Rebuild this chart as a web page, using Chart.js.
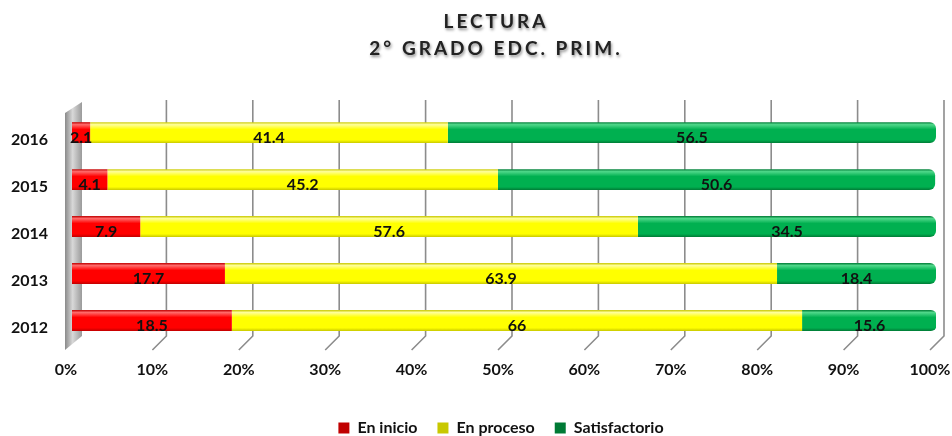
<!DOCTYPE html>
<html><head><meta charset="utf-8">
<script src="https://cdn.jsdelivr.net/npm/chart.js@4/dist/chart.umd.min.js"></script>
<style>html,body{margin:0;padding:0;background:#fff}#wrap{width:952px;height:436px}</style>
</head><body><div id="wrap"><canvas id="c" width="952" height="436"></canvas></div>
<script>
const titleLines = ['LECTURA', '2° GRADO EDC. PRIM.'];
const years = ['2016', '2015', '2014', '2013', '2012'];
const enInicio = [2.1, 4.1, 7.9, 17.7, 18.5];
const enProceso = [41.4, 45.2, 57.6, 63.9, 66];
const satisfactorio = [56.5, 50.6, 34.5, 18.4, 15.6];
const seriesNames = ['En inicio', 'En proceso', 'Satisfactorio'];
const xTicks = [0,10,20,30,40,50,60,70,80,90,100];

const FONT = 'Lato, "Open Sans", sans-serif';
const BAR_H = 21;

function grad(base, light, dark){
  return function(ctx){
    const chart = ctx.chart;
    const ys = chart.scales && chart.scales.y;
    if (!ys || !chart.chartArea || ctx.dataIndex === undefined) return base;
    const y = ys.getPixelForValue(ctx.dataIndex);
    const g = chart.ctx.createLinearGradient(0, y - BAR_H/2, 0, y + BAR_H/2);
    g.addColorStop(0, dark);
    g.addColorStop(0.12, light);
    g.addColorStop(0.35, base);
    g.addColorStop(0.85, base);
    g.addColorStop(1, dark);
    return g;
  };
}

const decor = {
  id: 'decor',
  afterLayout(chart){
    if (chart.titleBlock) { chart.titleBlock.left += 28; chart.titleBlock.right += 28; }
    if (chart.legend) { chart.legend.left += 33; chart.legend.right += 33; }
  },
  beforeDatasetsDraw(chart){
    const {ctx, chartArea} = chart;
    const xs = chart.scales.x;
    const topY = chartArea.top - 9, midY = chartArea.bottom - 8, botY = chartArea.bottom + 6;
    ctx.save();
    const x0 = xs.getPixelForValue(0);
    const g = ctx.createLinearGradient(x0 - 7, 0, x0 + 10, 0);
    g.addColorStop(0, '#8a8a8a');
    g.addColorStop(0.45, '#d8d8d8');
    g.addColorStop(1, '#9a9a9a');
    ctx.fillStyle = g;
    ctx.beginPath();
    ctx.moveTo(x0 + 10, topY + 2);
    ctx.lineTo(x0 + 10, midY);
    ctx.lineTo(x0 - 7, botY);
    ctx.lineTo(x0 - 7, topY + 13);
    ctx.closePath();
    ctx.fill();
    ctx.strokeStyle = '#8c8c8c';
    ctx.lineWidth = 1.6;
    xTicks.forEach(v => {
      if (v === 0) return;
      const px = xs.getPixelForValue(v);
      ctx.beginPath();
      ctx.moveTo(px + 8, topY);
      ctx.lineTo(px + 8, midY);
      ctx.lineTo(px - 6, botY);
      ctx.stroke();
    });
    ctx.restore();
  },
  afterDatasetsDraw(chart){
    const {ctx} = chart;
    ctx.save();
    ctx.font = 'bold 16px ' + FONT;
    ctx.fillStyle = '#111';
    ctx.textAlign = 'center';
    ctx.textBaseline = 'middle';
    chart.data.datasets.forEach((ds, di) => {
      const meta = chart.getDatasetMeta(di);
      meta.data.forEach((el, i) => {
        const cx = (el.x + el.base) / 2;
        ctx.fillText(String(ds.data[i]), cx, el.y + 5);
      });
    });
    ctx.restore();
  },
  afterInit(chart){
    const tb = chart.titleBlock;
    if (tb) {
      const orig = tb.draw;
      tb.draw = function(area){
        const c = chart.ctx;
        c.save();
        c.letterSpacing = '3px';
        c.shadowColor = 'rgba(0,0,0,0.45)';
        c.shadowBlur = 3;
        c.shadowOffsetX = 1;
        c.shadowOffsetY = 2;
        orig.call(this, area);
        c.restore();
      };
    }
  }
};

new Chart(document.getElementById('c'), {
  type: 'bar',
  data: {
    labels: years,
    datasets: [
      { label: seriesNames[0], data: enInicio, backgroundColor: grad('#ff0000', '#ff6a6a', '#c00000'), borderWidth: 0 },
      { label: seriesNames[1], data: enProceso, backgroundColor: grad('#ffff00', '#ffff9a', '#c8c800'), borderWidth: 0 },
      { label: seriesNames[2], data: satisfactorio, backgroundColor: grad('#00b050', '#4fd88a', '#007a35'), borderWidth: 0,
        borderRadius: {topLeft: 0, bottomLeft: 0, topRight: 6, bottomRight: 6}, borderSkipped: 'start' }
    ]
  },
  options: {
    indexAxis: 'y',
    responsive: false,
    animation: false,
    devicePixelRatio: 1,
    layout: { autoPadding: false, padding: { left: 0, right: 16, top: 0, bottom: -10 } },
    datasets: { bar: { categoryPercentage: 1, barPercentage: 0.444 } },
    scales: {
      x: {
        stacked: true, min: 0, max: 100,
        grid: { display: false, drawTicks: false },
        border: { display: false },
        afterBuildTicks(s){ s.ticks = xTicks.map(v => ({ value: v })); },
        afterFit(s){ s.height = 56; s.paddingLeft = 0; s.paddingRight = 0; },
        ticks: { padding: 16, labelOffset: -6, color: '#111', font: { family: FONT, size: 16, weight: 'bold' },
          callback: v => v + '%', maxRotation: 0, autoSkip: false }
      },
      y: {
        stacked: true,
        grid: { display: false, drawTicks: false },
        border: { display: false },
        afterFit(s){ s.width = 72; },
        ticks: { padding: 24, labelOffset: 7, color: '#111', font: { family: FONT, size: 16, weight: 'bold' } }
      }
    },
    plugins: {
      title: {
        display: true,
        text: titleLines,
        color: '#222',
        font: { family: FONT, size: 19, weight: 'bold', lineHeight: 1.45 },
        padding: { top: 8, bottom: 46 }
      },
      legend: {
        position: 'bottom',
        labels: { boxWidth: 11, boxHeight: 11, padding: 20, color: '#111', font: { family: FONT, size: 16, weight: 'bold' } }
      },
      tooltip: { enabled: false }
    }
  },
  plugins: [decor]
});
</script>
</body></html>
